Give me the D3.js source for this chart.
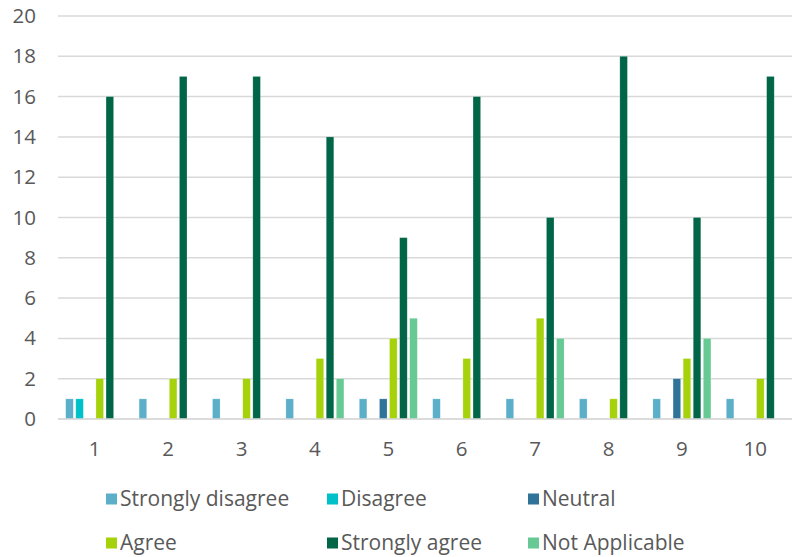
<!DOCTYPE html>
<html>
<head>
<meta charset="utf-8">
<script src="https://cdn.jsdelivr.net/npm/d3@7"></script>
<style>
  html, body { margin: 0; padding: 0; background: #fff; }
  svg { display: block; }
</style>
</head>
<body>
<svg id="chart" width="796" height="557"></svg>
<script>
const categories = ["1", "2", "3", "4", "5", "6", "7", "8", "9", "10"];
const seriesNames = ["Strongly disagree", "Disagree", "Neutral", "Agree", "Strongly agree", "Not Applicable"];
const seriesColors = ["#5bafc9", "#00c1c9", "#2f7399", "#a5d20b", "#006647", "#67c994"];
const stronglyDisagree = [1, 1, 1, 1, 1, 1, 1, 1, 1, 1];
const disagree         = [1, 0, 0, 0, 0, 0, 0, 0, 0, 0];
const neutral          = [0, 0, 0, 0, 1, 0, 0, 0, 2, 0];
const agree            = [2, 2, 2, 3, 4, 3, 5, 1, 3, 2];
const stronglyAgree    = [16, 17, 17, 14, 9, 16, 10, 18, 10, 17];
const notApplicable    = [0, 0, 0, 2, 5, 0, 4, 0, 4, 0];
const yTicks = [0, 2, 4, 6, 8, 10, 12, 14, 16, 18, 20];

const seriesValues = [stronglyDisagree, disagree, neutral, agree, stronglyAgree, notApplicable];

const svg = d3.select("#chart");
const plot = { left: 58, right: 792, top: 16, bottom: 419 };
const font = "'Open Sans', 'Noto Sans', sans-serif";
const textColor = "#595959";

const x0 = d3.scaleBand().domain(categories).range([plot.left, plot.right])
  .paddingInner(0.21).paddingOuter(0.105);
const x1 = d3.scaleBand().domain(d3.range(seriesNames.length)).range([0, x0.bandwidth()])
  .paddingInner(0.25).paddingOuter(0);
const y = d3.scaleLinear().domain([0, 20]).range([plot.bottom, plot.top]);

// horizontal gridlines
svg.append("g").selectAll("line").data(yTicks).join("line")
  .attr("x1", plot.left).attr("x2", plot.right)
  .attr("y1", d => y(d)).attr("y2", d => y(d))
  .attr("stroke", "#d9d9d9").attr("stroke-width", 1.5);

// y tick labels
const yAxis = svg.append("g").attr("transform", `translate(${plot.left},0)`)
  .call(d3.axisLeft(y).tickValues(yTicks).tickSize(0).tickPadding(22));
yAxis.select(".domain").remove();
yAxis.selectAll("text").attr("font-family", font).attr("font-size", 20.5).attr("fill", textColor);

// bars
const groups = svg.append("g").selectAll("g").data(categories).join("g")
  .attr("transform", d => `translate(${x0(d)},0)`);
groups.selectAll("rect")
  .data((c, i) => seriesValues.map((vals, s) => ({ s, v: vals[i] })).filter(d => d.v > 0))
  .join("rect")
  .attr("x", d => x1(d.s))
  .attr("width", x1.bandwidth())
  .attr("y", d => y(d.v))
  .attr("height", d => y(0) - y(d.v))
  .attr("fill", d => seriesColors[d.s])
  .attr("stroke", "rgba(255,255,255,0.35)").attr("stroke-width", 0.6);

// x axis line + labels
svg.append("line").attr("x1", plot.left).attr("x2", plot.right)
  .attr("y1", y(0)).attr("y2", y(0)).attr("stroke", "#d9d9d9").attr("stroke-width", 1.5);
const xAxis = svg.append("g").attr("transform", `translate(0,${plot.bottom})`)
  .call(d3.axisBottom(x0).tickSize(0).tickPadding(22));
xAxis.select(".domain").remove();
xAxis.selectAll("text").attr("font-family", font).attr("font-size", 20.5).attr("fill", textColor);

// legend, two rows of three
const legendX = [106, 327, 528];
const legendY = [499, 543];
const legend = svg.append("g").selectAll("g").data(seriesNames).join("g")
  .attr("transform", (d, i) => `translate(${legendX[i % 3]},${legendY[Math.floor(i / 3)]})`);
legend.append("rect").attr("x", 0).attr("y", -5.5).attr("width", 11).attr("height", 11)
  .attr("fill", (d, i) => seriesColors[i]);
legend.append("text").attr("x", 14).attr("y", 0).attr("dy", "0.35em")
  .attr("font-family", font).attr("font-size", 21).attr("fill", textColor)
  .text(d => d);
</script>
</body>
</html>
